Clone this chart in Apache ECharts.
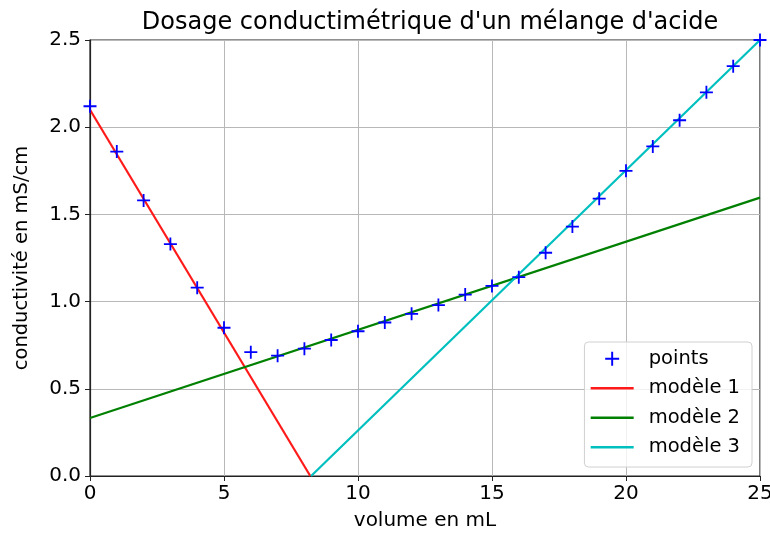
<!DOCTYPE html>
<html>
<head>
<meta charset="utf-8">
<script src="https://cdn.jsdelivr.net/npm/echarts@6/dist/echarts.min.js"></script>
<style>
  html, body { margin: 0; padding: 0; background: #fff; }
  #container { width: 770px; height: 538px; }
</style>
</head>
<body>
<div id="container"></div>
<script>
// mesures
var volumes = [0, 1, 2, 3, 4, 5, 6, 7, 8, 9, 10, 11, 12, 13, 14, 15, 16, 17, 18, 19, 20, 21, 22, 23, 24, 25];
var conductivites = [2.12, 1.86, 1.58, 1.33, 1.08, 0.85, 0.71, 0.69, 0.73, 0.78, 0.83, 0.88, 0.93, 0.98, 1.04, 1.09, 1.14, 1.28, 1.43, 1.59, 1.75, 1.89, 2.04, 2.20, 2.35, 2.50];

// modèles (extrémités des droites)
var modele1X = [0, 8.22];
var modele1Y = [2.10, 0];
var modele2X = [0, 25];
var modele2Y = [0.333, 1.596];
var modele3X = [8.25, 25];
var modele3Y = [0, 2.5];

function pairs(xs, ys) {
    return xs.map(function (x, i) { return [x, ys[i]]; });
}

var plusIcon = 'path://M0,4.3H10V5.7H0Z M4.3,0H5.7V10H4.3Z';
var font = 'DejaVu Sans';
var rouge = '#ff1a1a', vert = '#008000', cyan = '#00bfbf', bleu = '#0000ff';

function legendLine(name, color) {
    return { name: name, icon: 'line', itemStyle: { color: color, borderColor: color, borderWidth: 2.5 } };
}

window.onload = function () {
    var myChart = echarts.init(document.getElementById('container'));
    var option = {
        animation: false,
        textStyle: { fontFamily: font },
        title: {
            text: "Dosage conductimétrique d'un mélange d'acide",
            left: 425, top: 6, textAlign: 'center',
            textStyle: { fontFamily: font, fontSize: 24, fontWeight: 'normal', color: '#000' }
        },
        grid: {
            left: 90, right: 10, top: 40, bottom: 62,
            outerBoundsMode: 'none',
            show: true, borderColor: '#222', borderWidth: 1.2
        },
        legend: {
            orient: 'vertical',
            right: 18, bottom: 71,
            backgroundColor: 'rgba(255,255,255,0.8)',
            borderColor: '#d0d0d0', borderWidth: 1, borderRadius: 4,
            padding: [6, 12, 9, 5],
            itemWidth: 43, itemHeight: 14, itemGap: 8,
            textStyle: { fontFamily: font, fontSize: 19.5, color: '#000', lineHeight: 21.5, padding: [0, 0, 0, 10] },
            data: [
                { name: 'points', icon: plusIcon, itemStyle: { color: bleu, opacity: 1 } },
                legendLine('modèle 1', rouge),
                legendLine('modèle 2', vert),
                legendLine('modèle 3', cyan)
            ]
        },
        xAxis: {
            type: 'value', min: 0, max: 25, interval: 5,
            name: 'volume en mL', nameLocation: 'middle', nameGap: 35,
            nameTextStyle: { fontFamily: font, fontSize: 20, color: '#000' },
            axisLine: { show: true, lineStyle: { color: '#222', width: 1.2 } },
            axisTick: { show: true, length: 5, lineStyle: { color: '#222' } },
            axisLabel: { fontFamily: font, fontSize: 20, color: '#000', margin: 8 },
            splitLine: { show: true, lineStyle: { color: '#b8b8b8', width: 1 } }
        },
        yAxis: {
            type: 'value', min: 0, max: 2.5, interval: 0.5,
            name: 'conductivité en mS/cm', nameLocation: 'middle', nameGap: 58,
            nameTextStyle: { fontFamily: font, fontSize: 19.5, color: '#000' },
            axisLine: { show: true, lineStyle: { color: '#222', width: 1.2 } },
            axisTick: { show: true, length: 5, lineStyle: { color: '#222' } },
            axisLabel: {
                fontFamily: font, fontSize: 20, color: '#000', margin: 9,
                formatter: function (v) { return v.toFixed(1); }
            },
            splitLine: { show: true, lineStyle: { color: '#b8b8b8', width: 1 } }
        },
        series: [
            {
                name: 'modèle 1', type: 'line', symbol: 'none',
                lineStyle: { color: rouge, width: 2.2 }, itemStyle: { color: rouge },
                data: pairs(modele1X, modele1Y)
            },
            {
                name: 'modèle 2', type: 'line', symbol: 'none',
                lineStyle: { color: vert, width: 2.2 }, itemStyle: { color: vert },
                data: pairs(modele2X, modele2Y)
            },
            {
                name: 'modèle 3', type: 'line', symbol: 'none',
                lineStyle: { color: cyan, width: 2.2 }, itemStyle: { color: cyan },
                data: pairs(modele3X, modele3Y)
            },
            {
                name: 'points', type: 'scatter', symbol: plusIcon, symbolSize: 13,
                itemStyle: { color: bleu, opacity: 1 }, z: 5,
                data: pairs(volumes, conductivites)
            }
        ]
    };
    myChart.setOption(option);
};
</script>
</body>
</html>
